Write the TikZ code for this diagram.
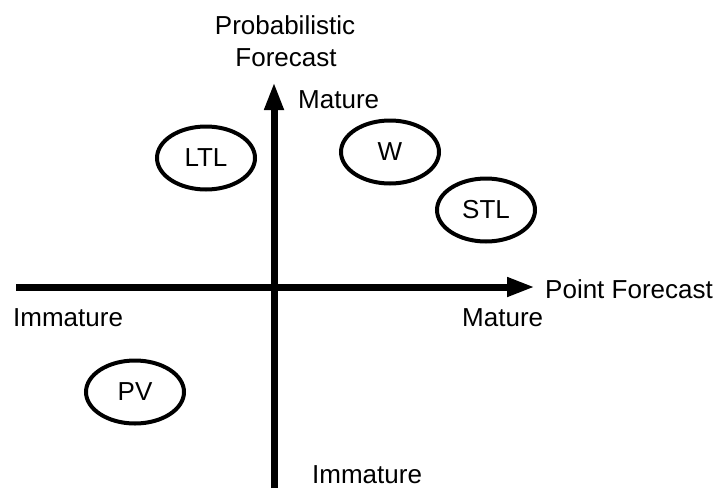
\documentclass[tikz,border=0pt]{standalone}
\usepackage{fontspec}
\setmainfont{Liberation Sans}
\usetikzlibrary{shapes.geometric,arrows.meta}
\tikzset{
  axis/.style={line width=7pt,-{Triangle[length=28pt,width=18pt]}},
  blob/.style={ellipse,draw,line width=4pt,inner sep=0pt,minimum width=98pt,minimum height=63pt,font=\fontsize{26pt}{30pt}\selectfont},
  lbl/.style={inner sep=0pt,font=\fontsize{26pt}{30pt}\selectfont}
}
\begin{document}
\begin{tikzpicture}[x=1pt,y=-1pt]
\useasboundingbox (0,0) rectangle (720,488);
% axes
\coordinate (hs) at (16,287);
\coordinate (he) at (535,287);
\coordinate (vs) at (274,488);
\coordinate (ve) at (274,82);
\draw[axis] (hs) -- (he);
\draw[axis] (vs) -- (ve);
% ellipses
\node[blob] (ltl) at (206,158) {LTL};
\node[blob] (w) at (390,152) {W};
\node[blob] (stl) at (486,210) {STL};
\node[blob] (pv) at (135,392) {PV};
% labels
\node[lbl,anchor=base] (prob) at (285,34) {Probabilistic};
\node[lbl,anchor=base] (fc) at (286,66) {Forecast};
\node[lbl,anchor=base west] (mt) at (298,108) {Mature};
\node[lbl,anchor=base west] (pf) at (545,298) {Point Forecast};
\node[lbl,anchor=base west] (mr) at (462,326) {Mature};
\node[lbl,anchor=base west] (il) at (13,326) {Immature};
\node[lbl,anchor=base west] (ib) at (312,483) {Immature};
\end{tikzpicture}
\end{document}
